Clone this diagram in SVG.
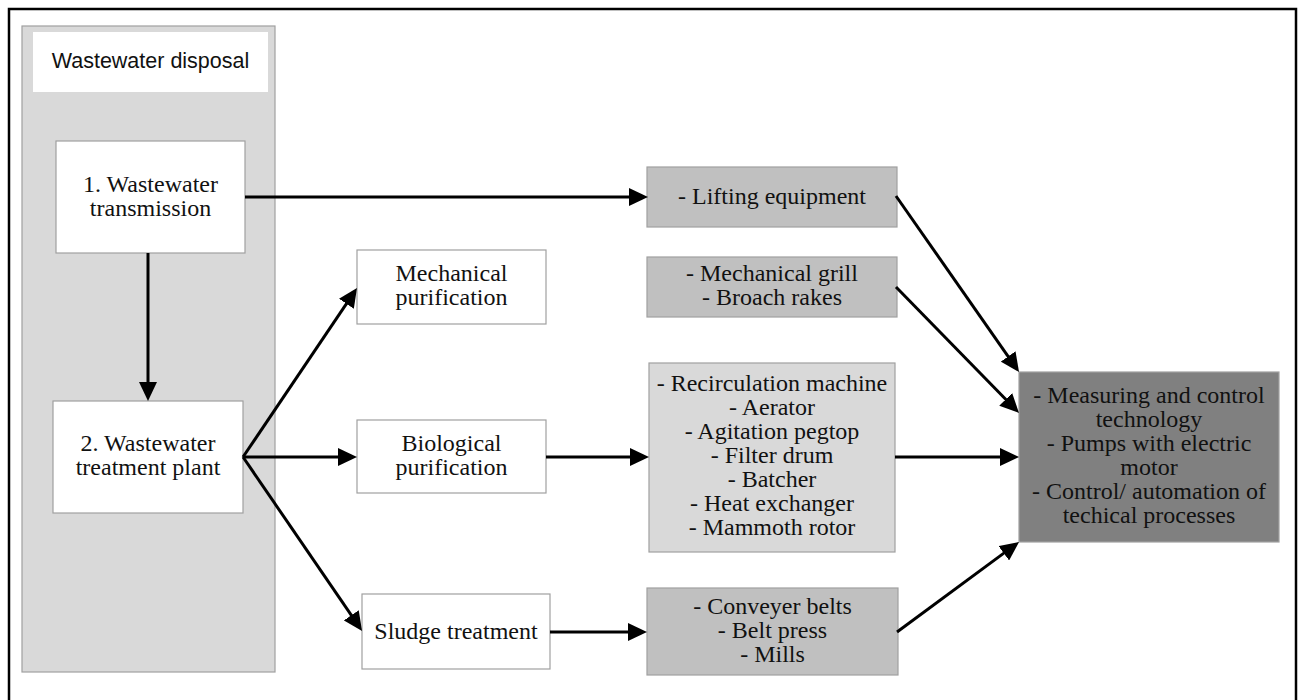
<svg xmlns="http://www.w3.org/2000/svg" width="1302" height="700" viewBox="0 0 1302 700">
  <style>
    .box { stroke: #a0a0a0; stroke-width: 1.2; }
    .white { fill: #ffffff; }
    .light { fill: #d9d9d9; }
    .mid { fill: #c0c0c0; }
    .dark { fill: #808080; }
    .t { font-family: "Liberation Serif", "Times New Roman", serif; font-size: 24px; fill: #111; text-anchor: middle; }
    .title { font-family: "Liberation Sans", Arial, sans-serif; font-size: 21.5px; fill: #111; text-anchor: middle; }
    .conn line { stroke: #000; stroke-width: 3; marker-end: url(#arrow); }
  </style>
  <defs>
    <marker id="arrow" markerUnits="userSpaceOnUse" markerWidth="19" markerHeight="18" refX="9" refY="9" orient="auto">
      <path d="M0,0 L19,9 L0,18 z" fill="#000"/>
    </marker>
  </defs>

  <rect x="0" y="0" width="1302" height="700" fill="#fff"/>
  <!-- outer frame -->
  <rect x="9" y="9" width="1287" height="702" fill="none" stroke="#000" stroke-width="2.5"/>

  <!-- wastewater disposal panel -->
  <g id="disposal-panel">
    <rect class="box light" x="22" y="26" width="253" height="646"/>
    <rect x="33" y="32" width="235" height="60" fill="#fff"/>
    <text class="title" x="150.5" y="68">Wastewater disposal</text>
  </g>

  <g id="transmission">
    <rect class="box white" x="56" y="141" width="189" height="112"/>
    <text class="t" x="150.5" y="192">1. Wastewater</text>
    <text class="t" x="150.5" y="216">transmission</text>
  </g>

  <g id="treatment-plant">
    <rect class="box white" x="53" y="401" width="190" height="112"/>
    <text class="t" x="148" y="451">2. Wastewater</text>
    <text class="t" x="148" y="475">treatment plant</text>
  </g>

  <g id="mechanical">
    <rect class="box white" x="357" y="250" width="189" height="74"/>
    <text class="t" x="451.5" y="281">Mechanical</text>
    <text class="t" x="451.5" y="305">purification</text>
  </g>

  <g id="biological">
    <rect class="box white" x="357" y="420" width="189" height="73"/>
    <text class="t" x="451.5" y="450.5">Biological</text>
    <text class="t" x="451.5" y="474.5">purification</text>
  </g>

  <g id="sludge">
    <rect class="box white" x="362" y="594" width="188" height="75"/>
    <text class="t" x="456" y="639">Sludge treatment</text>
  </g>

  <g id="lifting">
    <rect class="box mid" x="647" y="167" width="250" height="60"/>
    <text class="t" x="772" y="204">- Lifting equipment</text>
  </g>

  <g id="grill">
    <rect class="box mid" x="647" y="257" width="250" height="60"/>
    <text class="t" x="772" y="281">- Mechanical grill</text>
    <text class="t" x="772" y="305">- Broach rakes</text>
  </g>

  <g id="bio-equipment">
    <rect class="box light" x="649" y="363" width="246" height="189"/>
    <text class="t" x="772" y="391">- Recirculation machine</text>
    <text class="t" x="772" y="415">- Aerator</text>
    <text class="t" x="772" y="439">- Agitation pegtop</text>
    <text class="t" x="772" y="463">- Filter drum</text>
    <text class="t" x="772" y="487">- Batcher</text>
    <text class="t" x="772" y="511">- Heat exchanger</text>
    <text class="t" x="772" y="535">- Mammoth rotor</text>
  </g>

  <g id="sludge-equipment">
    <rect class="box mid" x="647" y="588" width="251" height="87"/>
    <text class="t" x="772.5" y="614">- Conveyer belts</text>
    <text class="t" x="772.5" y="638">- Belt press</text>
    <text class="t" x="772.5" y="662">- Mills</text>
  </g>

  <g id="control">
    <rect class="box dark" x="1019" y="372" width="260" height="170"/>
    <text class="t" x="1149" y="403">- Measuring and control</text>
    <text class="t" x="1149" y="427">technology</text>
    <text class="t" x="1149" y="451">- Pumps with electric</text>
    <text class="t" x="1149" y="475">motor</text>
    <text class="t" x="1149" y="499">- Control/ automation of</text>
    <text class="t" x="1149" y="523">techical processes</text>
  </g>

  <g id="connectors" class="conn">
    <line x1="245" y1="197" x2="638" y2="197"/>
    <line x1="148" y1="253" x2="148" y2="391"/>
    <line x1="243" y1="457" x2="351.4" y2="296.3"/>
    <line x1="243" y1="457" x2="347" y2="457"/>
    <line x1="243" y1="457" x2="356.4" y2="622.7"/>
    <line x1="546" y1="457" x2="639" y2="457"/>
    <line x1="550" y1="632" x2="637" y2="632"/>
    <line x1="896" y1="196" x2="1013.3" y2="363.8"/>
    <line x1="896" y1="287" x2="1012" y2="405.8"/>
    <line x1="895" y1="457" x2="1009" y2="457"/>
    <line x1="897" y1="632" x2="1011" y2="547.9"/>
  </g>
</svg>
